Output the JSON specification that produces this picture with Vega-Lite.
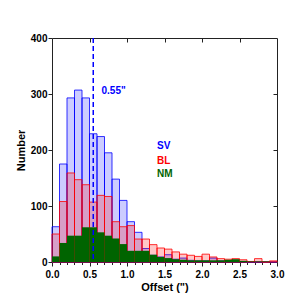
{
  "$schema": "https://vega.github.io/schema/vega-lite/v6.json",
  "width": 225,
  "height": 224,
  "autosize": "none",
  "padding": {"left": 52, "top": 38, "right": 23, "bottom": 38},
  "background": "white",
  "config": {
    "view": {"stroke": "#222222", "strokeWidth": 1},
    "font": "Liberation Sans",
    "axis": {
      "grid": false,
      "domain": false,
      "tickColor": "#222222",
      "labelFont": "Liberation Sans",
      "labelFontWeight": "bold",
      "labelFontSize": 10,
      "labelColor": "black",
      "titleFont": "Liberation Sans",
      "titleFontWeight": "bold",
      "titleFontSize": 11,
      "titleColor": "black"
    }
  },
  "datasets": {
    "hist": [
      {"s": "SV", "x0": 0.0, "x1": 0.1, "n": 63},
      {"s": "SV", "x0": 0.1, "x1": 0.2, "n": 175},
      {"s": "SV", "x0": 0.2, "x1": 0.3, "n": 293},
      {"s": "SV", "x0": 0.3, "x1": 0.4, "n": 307},
      {"s": "SV", "x0": 0.4, "x1": 0.5, "n": 293},
      {"s": "SV", "x0": 0.5, "x1": 0.6, "n": 229},
      {"s": "SV", "x0": 0.6, "x1": 0.7, "n": 224},
      {"s": "SV", "x0": 0.7, "x1": 0.8, "n": 195},
      {"s": "SV", "x0": 0.8, "x1": 0.9, "n": 148},
      {"s": "SV", "x0": 0.9, "x1": 1.0, "n": 110},
      {"s": "SV", "x0": 1.0, "x1": 1.1, "n": 72},
      {"s": "SV", "x0": 1.1, "x1": 1.2, "n": 53},
      {"s": "SV", "x0": 1.2, "x1": 1.3, "n": 24},
      {"s": "SV", "x0": 1.3, "x1": 1.4, "n": 12},
      {"s": "SV", "x0": 1.4, "x1": 1.5, "n": 9},
      {"s": "SV", "x0": 1.5, "x1": 1.6, "n": 13},
      {"s": "SV", "x0": 1.6, "x1": 1.7, "n": 5},
      {"s": "SV", "x0": 1.7, "x1": 1.8, "n": 7},
      {"s": "SV", "x0": 1.8, "x1": 1.9, "n": 3},
      {"s": "SV", "x0": 1.9, "x1": 2.0, "n": 2},
      {"s": "SV", "x0": 2.0, "x1": 2.1, "n": 2},
      {"s": "SV", "x0": 2.1, "x1": 2.2, "n": 7},
      {"s": "SV", "x0": 2.2, "x1": 2.3, "n": 2},
      {"s": "SV", "x0": 2.3, "x1": 2.4, "n": 1},
      {"s": "SV", "x0": 2.4, "x1": 2.5, "n": 3},
      {"s": "SV", "x0": 2.5, "x1": 2.6, "n": 1},
      {"s": "SV", "x0": 2.6, "x1": 2.7, "n": 0},
      {"s": "SV", "x0": 2.7, "x1": 2.8, "n": 0},
      {"s": "SV", "x0": 2.8, "x1": 2.9, "n": 0},
      {"s": "SV", "x0": 2.9, "x1": 3.0, "n": 0},
      {"s": "BL", "x0": 0.0, "x1": 0.1, "n": 50},
      {"s": "BL", "x0": 0.1, "x1": 0.2, "n": 108},
      {"s": "BL", "x0": 0.2, "x1": 0.3, "n": 159},
      {"s": "BL", "x0": 0.3, "x1": 0.4, "n": 147},
      {"s": "BL", "x0": 0.4, "x1": 0.5, "n": 138},
      {"s": "BL", "x0": 0.5, "x1": 0.6, "n": 107},
      {"s": "BL", "x0": 0.6, "x1": 0.7, "n": 119},
      {"s": "BL", "x0": 0.7, "x1": 0.8, "n": 117},
      {"s": "BL", "x0": 0.8, "x1": 0.9, "n": 72},
      {"s": "BL", "x0": 0.9, "x1": 1.0, "n": 63},
      {"s": "BL", "x0": 1.0, "x1": 1.1, "n": 65},
      {"s": "BL", "x0": 1.1, "x1": 1.2, "n": 41},
      {"s": "BL", "x0": 1.2, "x1": 1.3, "n": 41},
      {"s": "BL", "x0": 1.3, "x1": 1.4, "n": 31},
      {"s": "BL", "x0": 1.4, "x1": 1.5, "n": 25},
      {"s": "BL", "x0": 1.5, "x1": 1.6, "n": 23},
      {"s": "BL", "x0": 1.6, "x1": 1.7, "n": 18},
      {"s": "BL", "x0": 1.7, "x1": 1.8, "n": 14},
      {"s": "BL", "x0": 1.8, "x1": 1.9, "n": 12},
      {"s": "BL", "x0": 1.9, "x1": 2.0, "n": 10},
      {"s": "BL", "x0": 2.0, "x1": 2.1, "n": 14},
      {"s": "BL", "x0": 2.1, "x1": 2.2, "n": 9},
      {"s": "BL", "x0": 2.2, "x1": 2.3, "n": 6},
      {"s": "BL", "x0": 2.3, "x1": 2.4, "n": 5},
      {"s": "BL", "x0": 2.4, "x1": 2.5, "n": 6},
      {"s": "BL", "x0": 2.5, "x1": 2.6, "n": 4},
      {"s": "BL", "x0": 2.6, "x1": 2.7, "n": 1},
      {"s": "BL", "x0": 2.7, "x1": 2.8, "n": 6},
      {"s": "BL", "x0": 2.8, "x1": 2.9, "n": 0},
      {"s": "BL", "x0": 2.9, "x1": 3.0, "n": 2},
      {"s": "NM", "x0": 0.0, "x1": 0.1, "n": 10},
      {"s": "NM", "x0": 0.1, "x1": 0.2, "n": 34},
      {"s": "NM", "x0": 0.2, "x1": 0.3, "n": 47},
      {"s": "NM", "x0": 0.3, "x1": 0.4, "n": 47},
      {"s": "NM", "x0": 0.4, "x1": 0.5, "n": 62},
      {"s": "NM", "x0": 0.5, "x1": 0.6, "n": 62},
      {"s": "NM", "x0": 0.6, "x1": 0.7, "n": 53},
      {"s": "NM", "x0": 0.7, "x1": 0.8, "n": 47},
      {"s": "NM", "x0": 0.8, "x1": 0.9, "n": 42},
      {"s": "NM", "x0": 0.9, "x1": 1.0, "n": 32},
      {"s": "NM", "x0": 1.0, "x1": 1.1, "n": 20},
      {"s": "NM", "x0": 1.1, "x1": 1.2, "n": 20},
      {"s": "NM", "x0": 1.2, "x1": 1.3, "n": 20},
      {"s": "NM", "x0": 1.3, "x1": 1.4, "n": 13},
      {"s": "NM", "x0": 1.4, "x1": 1.5, "n": 9},
      {"s": "NM", "x0": 1.5, "x1": 1.6, "n": 7},
      {"s": "NM", "x0": 1.6, "x1": 1.7, "n": 5},
      {"s": "NM", "x0": 1.7, "x1": 1.8, "n": 4},
      {"s": "NM", "x0": 1.8, "x1": 1.9, "n": 3},
      {"s": "NM", "x0": 1.9, "x1": 2.0, "n": 3},
      {"s": "NM", "x0": 2.0, "x1": 2.1, "n": 3},
      {"s": "NM", "x0": 2.1, "x1": 2.2, "n": 3},
      {"s": "NM", "x0": 2.2, "x1": 2.3, "n": 3},
      {"s": "NM", "x0": 2.3, "x1": 2.4, "n": 4},
      {"s": "NM", "x0": 2.4, "x1": 2.5, "n": 5},
      {"s": "NM", "x0": 2.5, "x1": 2.6, "n": 2},
      {"s": "NM", "x0": 2.6, "x1": 2.7, "n": 1},
      {"s": "NM", "x0": 2.7, "x1": 2.8, "n": 1},
      {"s": "NM", "x0": 2.8, "x1": 2.9, "n": 1},
      {"s": "NM", "x0": 2.9, "x1": 3.0, "n": 0}
    ],
    "labels": [
      {"label": "SV", "x": 1.4, "y": 207},
      {"label": "BL", "x": 1.4, "y": 181},
      {"label": "NM", "x": 1.4, "y": 157},
      {"label": "0.55\"", "x": 0.66, "y": 306}
    ],
    "marker": [{"x": 0.55}]
  },
  "resolve": {"axis": {"x": "independent", "y": "independent"}},
  "layer": [
    {
      "data": {"name": "hist"},
      "transform": [{"filter": "datum.s === 'SV'"}],
      "mark": {"type": "bar", "fill": "#0000ff", "fillOpacity": 0.2, "stroke": "#0000ff", "strokeWidth": 1, "strokeOpacity": 0.8},
      "encoding": {
        "x": {
          "field": "x0", "type": "quantitative",
          "scale": {"domain": [0, 3], "nice": false, "zero": false},
          "axis": {
            "orient": "bottom",
            "title": "Offset (\")",
            "values": [0, 0.1, 0.2, 0.3, 0.4, 0.5, 0.6, 0.7, 0.8, 0.9, 1, 1.1, 1.2, 1.3, 1.4, 1.5, 1.6, 1.7, 1.8, 1.9, 2, 2.1, 2.2, 2.3, 2.4, 2.5, 2.6, 2.7, 2.8, 2.9, 3],
            "labelExpr": "abs(datum.value*2 - round(datum.value*2)) < 0.001 ? format(datum.value, '.1f') : ''",
            "tickSize": {"condition": {"test": "abs(datum.value*2 - round(datum.value*2)) < 0.001", "value": 4}, "value": 2.5},
            "labelPadding": 3,
            "labelOverlap": false,
            "labelFlush": false,
            "labelBound": false,
            "titlePadding": 2
          }
        },
        "x2": {"field": "x1"},
        "y": {
          "field": "n", "type": "quantitative",
          "scale": {"domain": [0, 400], "nice": false},
          "axis": {
            "orient": "left",
            "title": "Number",
            "values": [0, 100, 200, 300, 400],
            "tickSize": 4,
            "labelPadding": 1,
            "titlePadding": 4
          }
        },
        "y2": {"datum": 0}
      }
    },
    {
      "data": {"name": "hist"},
      "transform": [{"filter": "datum.s === 'BL'"}],
      "mark": {"type": "bar", "fill": "#ff0000", "fillOpacity": 0.22, "stroke": "#ff0000", "strokeWidth": 1, "strokeOpacity": 0.8},
      "encoding": {
        "x": {
          "field": "x0", "type": "quantitative",
          "axis": {"orient": "top", "title": null, "labels": false, "values": [0.5, 1, 1.5, 2, 2.5], "tickSize": -4}
        },
        "x2": {"field": "x1"},
        "y": {
          "field": "n", "type": "quantitative",
          "axis": {"orient": "right", "title": null, "labels": false, "values": [100, 200, 300], "tickSize": -4}
        },
        "y2": {"datum": 0}
      }
    },
    {
      "data": {"name": "hist"},
      "transform": [{"filter": "datum.s === 'NM'"}],
      "mark": {"type": "bar", "fill": "#006400", "fillOpacity": 1, "strokeWidth": 0},
      "encoding": {
        "x": {"field": "x0", "type": "quantitative", "axis": null},
        "x2": {"field": "x1"},
        "y": {"field": "n", "type": "quantitative", "axis": null},
        "y2": {"datum": 0}
      }
    },
    {
      "data": {"name": "marker"},
      "mark": {"type": "rule", "color": "#0000ff", "strokeWidth": 1.5, "strokeDash": [5, 3]},
      "encoding": {
        "x": {"field": "x", "type": "quantitative", "axis": null}
      }
    },
    {
      "data": {"name": "labels"},
      "mark": {"type": "text", "align": "left", "baseline": "middle", "font": "Liberation Sans", "fontWeight": "bold", "fontSize": 10},
      "encoding": {
        "x": {"field": "x", "type": "quantitative", "axis": null},
        "y": {"field": "y", "type": "quantitative", "axis": null},
        "text": {"field": "label"},
        "color": {
          "field": "label", "type": "nominal",
          "scale": {"domain": ["SV", "BL", "NM", "0.55\""], "range": ["#0000ff", "#ff0000", "#006400", "#0000ff"]},
          "legend": null
        }
      }
    }
  ]
}
